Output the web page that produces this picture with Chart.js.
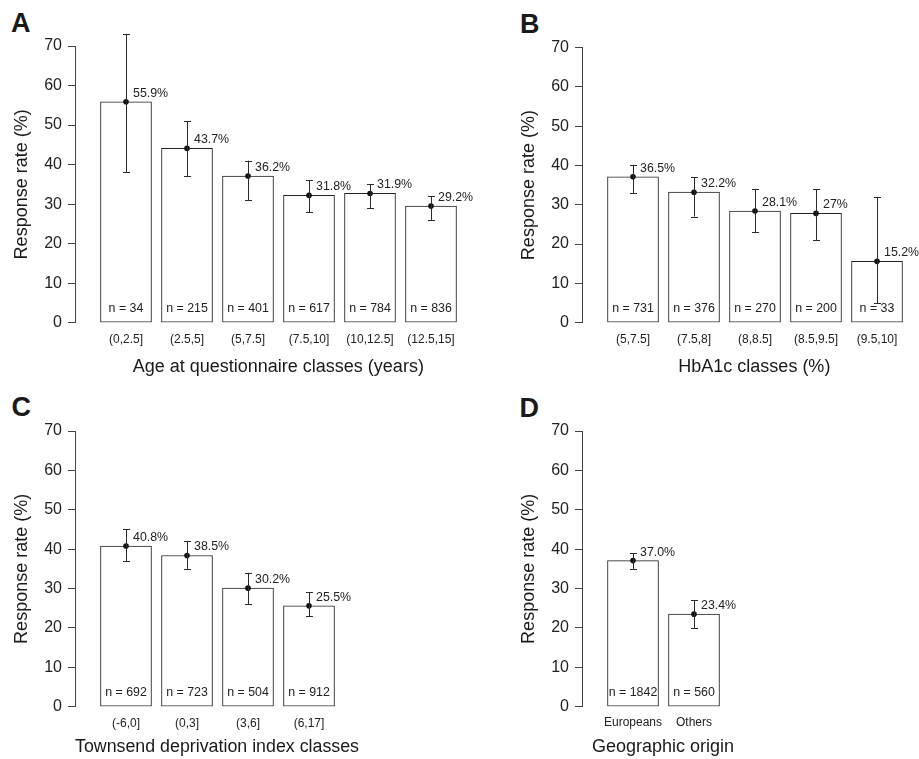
<!DOCTYPE html>
<html>
<head>
<meta charset="utf-8">
<script src="https://cdn.jsdelivr.net/npm/chart.js@4.4.1/dist/chart.umd.min.js"></script>
<style>
  html, body { margin: 0; padding: 0; background: #fff; overflow: hidden; width: 919px; height: 759px; }
  .panel { position: absolute; }
  .letter { position: absolute; font-family: "Liberation Sans", Arial, sans-serif; font-weight: bold; font-size: 27px; line-height: 27px; color: #1a1a1a; }
</style>
</head>
<body>
<div class="letter" style="left:11px;top:10.4px">A</div>
<div class="letter" style="left:520px;top:11.4px">B</div>
<div class="letter" style="left:11.5px;top:394.4px">C</div>
<div class="letter" style="left:519.5px;top:394.8px">D</div>
<canvas id="cA" class="panel"></canvas>
<canvas id="cB" class="panel"></canvas>
<canvas id="cC" class="panel"></canvas>
<canvas id="cD" class="panel"></canvas>
<script>
// ---------- DATA ----------
const yTicks = [0, 10, 20, 30, 40, 50, 60, 70];
const yLabel = "Response rate (%)";

// Panel A
const ageClasses = ["(0,2.5]", "(2.5,5]", "(5,7.5]", "(7.5,10]", "(10,12.5]", "(12.5,15]"];
const ageRate    = [55.9, 44.1, 37.1, 32.2, 32.7, 29.5];
const ageLower   = [38, 37, 31, 28, 29, 26];
const ageUpper   = [73, 51, 41, 36, 35, 32];
const ageText    = ["55.9%", "43.7%", "36.2%", "31.8%", "31.9%", "29.2%"];
const ageN       = [34, 215, 401, 617, 784, 836];

// Panel B
const hbClasses = ["(5,7.5]", "(7.5,8]", "(8,8.5]", "(8.5,9.5]", "(9.5,10]"];
const hbRate    = [37.1, 33.2, 28.4, 27.8, 15.6];
const hbLower   = [33, 27, 23, 21, 5];
const hbUpper   = [40, 37, 34, 34, 32];
const hbText    = ["36.5%", "32.2%", "28.1%", "27%", "15.2%"];
const hbN       = [731, 376, 270, 200, 33];

// Panel C
const tdClasses = ["(-6,0]", "(0,3]", "(3,6]", "(6,17]"];
const tdRate    = [40.8, 38.4, 30.1, 25.6];
const tdLower   = [37, 35, 26, 23];
const tdUpper   = [45, 42, 34, 29];
const tdText    = ["40.8%", "38.5%", "30.2%", "25.5%"];
const tdN       = [692, 723, 504, 912];

// Panel D
const geoClasses = ["Europeans", "Others"];
const geoRate    = [37.1, 23.5];
const geoLower   = [35, 20];
const geoUpper   = [39, 27];
const geoText    = ["37.0%", "23.4%"];
const geoN       = [1842, 560];

// ---------- LAYOUT ----------
const FONT = '"Liberation Sans", Arial, Helvetica, sans-serif';
const SLOT = 61;      // px per category
const BAR = 51;       // bar thickness px
const FIRST = 51;     // px from y axis to first bar centre
const AXIS_X = 75;

const panels = [
  { id: 'cA', left: 0,     top: 0,   W: 490, H: 380, cTop: 46,   cBot: 322.7, cRight: 481.6, tickPad: 9.4, titlePB: 2.5, yTitlePad: 11.7,
    cats: ageClasses, rate: ageRate, lo: ageLower, hi: ageUpper, txt: ageText, n: ageN, xTitle: "Age at questionnaire classes (years)" },
  { id: 'cB', left: 507.3, top: 0,   W: 425, H: 380, cTop: 47.5, cBot: 322.7, cRight: 419.7, tickPad: 9.4, titlePB: 2.5, yTitlePad: 11,
    cats: hbClasses, rate: hbRate, lo: hbLower, hi: hbUpper, txt: hbText, n: hbN, xTitle: "HbA1c classes (%)" },
  { id: 'cC', left: 0,     top: 380, W: 490, H: 379, cTop: 51,   cBot: 326.7, cRight: 359,   tickPad: 9.4, titlePB: 1.5, yTitlePad: 11.7,
    cats: tdClasses, rate: tdRate, lo: tdLower, hi: tdUpper, txt: tdText, n: tdN, xTitle: "Townsend deprivation index classes" },
  { id: 'cD', left: 507.3, top: 380, W: 425, H: 379, cTop: 51,   cBot: 326.7, cRight: 237,   tickPad: 8.4, titlePB: 1.5, yTitlePad: 11,
    cats: geoClasses, rate: geoRate, lo: geoLower, hi: geoUpper, txt: geoText, n: geoN, xTitle: "Geographic origin" }
];
const panelById = {};
panels.forEach(p => { panelById[p.id] = p; });

const errPlugin = {
  id: 'errbars',
  afterDatasetsDraw(chart) {
    const p = panelById[chart.canvas.id];
    if (!p) return;
    const { ctx } = chart;
    const x = chart.scales.x, y = chart.scales.y;
    ctx.save();
    ctx.strokeStyle = '#2a2a2a';
    ctx.lineWidth = 1;
    p.rate.forEach((v, i) => {
      const cx = Math.round(x.getPixelForValue(i + 1)) + 0.5;
      const yl = y.getPixelForValue(p.lo[i]);
      const yu = y.getPixelForValue(p.hi[i]);
      ctx.beginPath();
      ctx.moveTo(cx, yl); ctx.lineTo(cx, yu);
      ctx.moveTo(cx - 3.5, Math.round(yl) + 0.5); ctx.lineTo(cx + 3.5, Math.round(yl) + 0.5);
      ctx.moveTo(cx - 3.5, Math.round(yu) + 0.5); ctx.lineTo(cx + 3.5, Math.round(yu) + 0.5);
      ctx.stroke();
    });
    ctx.fillStyle = '#222';
    ctx.font = '12.4px ' + FONT;
    p.rate.forEach((v, i) => {
      const cx = x.getPixelForValue(i + 1);
      const yv = y.getPixelForValue(v);
      ctx.textAlign = 'left';
      ctx.textBaseline = 'middle';
      ctx.fillText(p.txt[i], cx + 7, yv - 8.5);
      ctx.textAlign = 'center';
      ctx.fillText('n = ' + p.n[i], cx, y.getPixelForValue(0) - 14.4);
    });
    ctx.restore();
  }
};

panels.forEach(p => {
  const cv = document.getElementById(p.id);
  cv.width = p.W; cv.height = p.H;
  cv.style.left = p.left + 'px'; cv.style.top = p.top + 'px';
  cv.style.width = p.W + 'px'; cv.style.height = p.H + 'px';
  const xmin = 1 - FIRST / SLOT;
  const xmax = xmin + (p.cRight - AXIS_X) / SLOT;
  const pts = p.rate.map((v, i) => ({ x: i + 1, y: v }));
  new Chart(cv, {
    data: {
      datasets: [
        { type: 'line', data: pts, showLine: false, pointRadius: 2.8, pointHoverRadius: 2.8,
          pointBackgroundColor: '#111', pointBorderColor: '#111', pointBorderWidth: 0, clip: false, order: 0 },
        { type: 'bar', data: pts, backgroundColor: '#fff', borderColor: '#222', borderWidth: 1,
          barThickness: BAR, borderSkipped: false, order: 1 }
      ]
    },
    options: {
      responsive: false,
      animation: false,
      devicePixelRatio: 1,
      layout: { padding: { left: 0, top: p.cTop, right: p.W - p.cRight, bottom: 0 } },
      plugins: { legend: { display: false }, tooltip: { enabled: false } },
      scales: {
        x: {
          type: 'linear', offset: false, min: xmin, max: xmax,
          grid: { display: false, drawTicks: false },
          border: { display: false },
          afterBuildTicks: s => { s.ticks = p.cats.map((c, i) => ({ value: i + 1 })); },
          afterFit: s => { s.height = p.H - p.cBot; },
          ticks: {
            autoSkip: false, maxRotation: 0, minRotation: 0, padding: p.tickPad,
            color: '#222', font: { family: FONT, size: 12 },
            callback: v => p.cats[Math.round(v) - 1]
          },
          title: { display: true, text: p.xTitle, color: '#1a1a1a',
            font: { family: FONT, size: 18 }, padding: { top: 0, bottom: p.titlePB } }
        },
        y: {
          min: 0, max: 70,
          afterBuildTicks: s => { s.ticks = yTicks.map(v => ({ value: v })); },
          afterFit: s => { s.width = AXIS_X; },
          grid: { display: true, drawOnChartArea: false, drawTicks: true, tickLength: 7, color: '#444', lineWidth: 1 },
          border: { display: true, color: '#444', width: 1 },
          ticks: { padding: 6, color: '#222', font: { family: FONT, size: 16 } },
          title: { display: true, text: yLabel, color: '#1a1a1a',
            font: { family: FONT, size: 18 }, padding: { top: p.yTitlePad, bottom: 0 } }
        }
      }
    },
    plugins: [errPlugin]
  });
});
</script>
</body>
</html>
